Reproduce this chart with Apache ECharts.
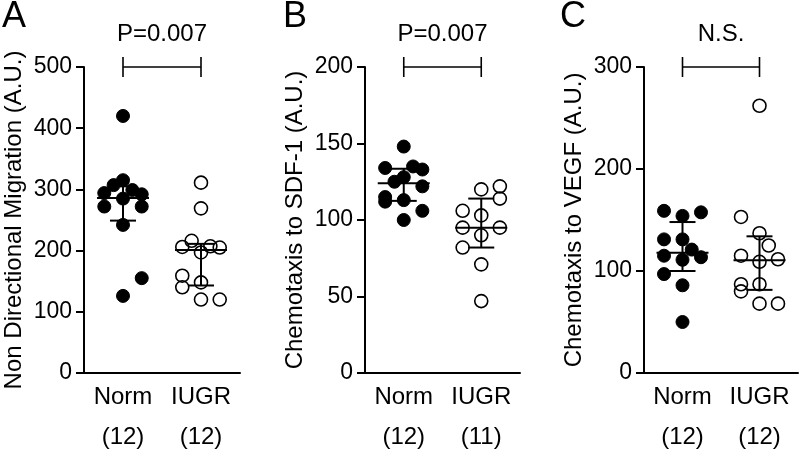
<!DOCTYPE html>
<html><head><meta charset="utf-8">
<script src="https://cdn.jsdelivr.net/npm/echarts@6/dist/echarts.min.js"></script>
<style>html,body{margin:0;padding:0;background:#fff}#c{width:800px;height:450px}</style>
</head><body><div id="c"></div>
<script>
// ---------- data ----------
const categories = ['Norm', 'IUGR'];

const countsA = ['(12)', '(12)'];
const countsB = ['(12)', '(11)'];
const countsC = ['(12)', '(12)'];

const yTitleA = 'Non Directional Migration (A.U.)';
const yTitleB = 'Chemotaxis to SDF-1 (A.U.)';
const yTitleC = 'Chemotaxis to VEGF (A.U.)';

const sigA = 'P=0.007';
const sigB = 'P=0.007';
const sigC = 'N.S.';

// Panel A
const aNormVals   = [420, 315, 307, 294, 299, 292, 285, 272, 272, 242, 155, 126];
const aNormJitter = [0, 0, -0.12, -0.24, 0.12, 0.24, 0, -0.24, 0.24, 0, 0.24, 0];
const aIugrVals   = [311, 269, 216, 206, 207, 205, 197, 159, 140, 148, 120, 120];
const aIugrJitter = [0, 0, -0.12, -0.24, 0.12, 0.24, 0, -0.24, -0.24, 0, 0, 0.24];
const aMedian = [286, 201];
const aQ1     = [249, 143];
const aQ3     = [305, 211];

// Panel B
const bNormVals   = [148, 134, 135, 133, 128, 125, 122, 115, 112, 113, 106, 100];
const bNormJitter = [0, -0.24, 0.12, 0.24, 0, -0.12, 0.24, -0.24, -0.24, 0, 0.24, 0];
const bIugrVals   = [120, 122, 114, 106, 103, 95, 95, 90, 82, 71, 47];
const bIugrJitter = [0, 0.24, 0.24, -0.24, 0, -0.24, 0.24, 0, -0.24, 0, 0];
const bMedian = [124, 95];
const bQ1     = [112.5, 82];
const bQ3     = [133.5, 114];

// Panel C
const cNormVals   = [159, 154, 157.5, 131, 131, 121, 115, 113.5, 111, 97, 86, 50];
const cNormJitter = [-0.24, 0, 0.24, -0.24, 0, 0.12, -0.24, 0.24, 0, -0.24, 0, 0];
const cIugrVals   = [262, 153, 137, 125, 115, 109, 111.5, 87, 87, 80, 68, 68];
const cIugrJitter = [0, -0.24, 0, 0.12, -0.24, 0, 0.24, -0.24, 0, -0.24, 0, 0.24];
const cMedian = [118, 110.5];
const cQ1     = [100, 81.5];
const cQ3     = [148, 134];

// axis ranges
const yMax = [500, 200, 300];
const yInterval = [100, 50, 100];
const letters = ['A', 'B', 'C'];

// ---------- chart ----------
const FONT = "'Liberation Sans', Arial, Helvetica, sans-serif";
const panels = [
  {counts: countsA, title: yTitleA, sig: sigA, norm: [aNormVals, aNormJitter], iugr: [aIugrVals, aIugrJitter], med: aMedian, q1: aQ1, q3: aQ3},
  {counts: countsB, title: yTitleB, sig: sigB, norm: [bNormVals, bNormJitter], iugr: [bIugrVals, bIugrJitter], med: bMedian, q1: bQ1, q3: bQ3},
  {counts: countsC, title: yTitleC, sig: sigC, norm: [cNormVals, cNormJitter], iugr: [cIugrVals, cIugrJitter], med: cMedian, q1: cQ1, q3: cQ3}
];
const gridPos = [
  {left: 84, width: 156},
  {left: 365, width: 155},
  {left: 644, width: 154}
];
const letterPos = [2, 283, 560];

const grids = [], xAxes = [], yAxes = [], series = [], graphics = [];
const lineStyle = {color: '#000', width: 2};

panels.forEach((p, i) => {
  grids.push({left: gridPos[i].left, width: gridPos[i].width, top: 67, bottom: 77, containLabel: false});
  xAxes.push({
    type: 'category', gridIndex: i, data: categories,
    axisLine: {onZero: false, lineStyle: lineStyle},
    axisTick: {alignWithLabel: true, length: 8, lineStyle: lineStyle},
    axisLabel: {
      margin: 4, interval: 0,
      formatter: (v, idx) => '{a|' + v + '}\n{b|' + p.counts[idx] + '}',
      rich: {
        a: {fontSize: 24, lineHeight: 40, color: '#000', fontFamily: FONT},
        b: {fontSize: 24, lineHeight: 40, color: '#000', fontFamily: FONT}
      }
    },
    splitLine: {show: false}
  });
  xAxes.push({type: 'value', gridIndex: i, min: -0.5, max: 1.5, show: false});
  yAxes.push({
    type: 'value', gridIndex: i, min: 0, max: yMax[i], interval: yInterval[i],
    axisLine: {show: true, onZero: false, lineStyle: lineStyle},
    axisTick: {show: true, length: 8, lineStyle: lineStyle},
    axisLabel: {fontSize: 23, color: '#000', margin: 12, fontFamily: FONT},
    splitLine: {show: false},
    name: p.title, nameLocation: 'middle', nameGap: 58,
    nameTextStyle: {fontSize: 24, color: '#000', fontFamily: FONT}
  });
  const xi = 2 * i + 1;
  series.push({
    type: 'scatter', xAxisIndex: xi, yAxisIndex: i, symbolSize: 13,
    itemStyle: {color: '#000', borderColor: '#000', borderWidth: 1, opacity: 1},
    data: p.norm[0].map((v, k) => [0 + p.norm[1][k], v]), z: 2
  });
  series.push({
    type: 'scatter', xAxisIndex: xi, yAxisIndex: i, symbolSize: 13,
    itemStyle: {color: 'rgba(255,255,255,0)', borderColor: '#000', borderWidth: 1.6, opacity: 1},
    data: p.iugr[0].map((v, k) => [1 + p.iugr[1][k], v]), z: 2
  });
  series.push({
    type: 'custom', xAxisIndex: xi, yAxisIndex: i, clip: false, z: 5,
    data: [0, 1].map(g => [g, p.med[g], p.q1[g], p.q3[g]]),
    encode: {x: 0, y: [1, 2, 3]},
    renderItem: (params, api) => {
      const x = api.value(0);
      const pm = api.coord([x, api.value(1)]);
      const pl = api.coord([x, api.value(2)]);
      const ph = api.coord([x, api.value(3)]);
      const st = {stroke: '#000', lineWidth: 2};
      return {type: 'group', children: [
        {type: 'line', shape: {x1: pm[0] - 26, y1: pm[1], x2: pm[0] + 26, y2: pm[1]}, style: st},
        {type: 'line', shape: {x1: pl[0] - 13, y1: pl[1], x2: pl[0] + 13, y2: pl[1]}, style: st},
        {type: 'line', shape: {x1: ph[0] - 13, y1: ph[1], x2: ph[0] + 13, y2: ph[1]}, style: st},
        {type: 'line', shape: {x1: pl[0], y1: pl[1], x2: ph[0], y2: ph[1]}, style: st}
      ]};
    }
  });
  series.push({
    type: 'custom', xAxisIndex: xi, yAxisIndex: i, clip: false, z: 5,
    data: [[0, 1, yMax[i]]],
    encode: {x: [0, 1], y: 2},
    renderItem: (params, api) => {
      const y = api.value(2);
      const p0 = api.coord([api.value(0), y]);
      const p1 = api.coord([api.value(1), y]);
      const st = {stroke: '#000', lineWidth: 1.6};
      return {type: 'group', children: [
        {type: 'line', shape: {x1: p0[0], y1: p0[1], x2: p1[0], y2: p1[1]}, style: st},
        {type: 'line', shape: {x1: p0[0], y1: p0[1] - 10, x2: p0[0], y2: p0[1] + 10}, style: st},
        {type: 'line', shape: {x1: p1[0], y1: p1[1] - 10, x2: p1[0], y2: p1[1] + 10}, style: st},
        {type: 'text', x: (p0[0] + p1[0]) / 2, y: p0[1] - 33,
          style: {text: p.sig, fontSize: 24, fontFamily: FONT, fill: '#000', align: 'center', verticalAlign: 'middle'}}
      ]};
    }
  });
  graphics.push({type: 'text', left: letterPos[i], top: -1,
    style: {text: letters[i], fontSize: 36, fontFamily: FONT, fill: '#000'}});
});

const chart = echarts.init(document.getElementById('c'), null, {renderer: 'canvas'});
chart.setOption({
  animation: false,
  backgroundColor: '#fff',
  grid: grids, xAxis: xAxes, yAxis: yAxes, series: series, graphic: graphics
});
</script></body></html>
